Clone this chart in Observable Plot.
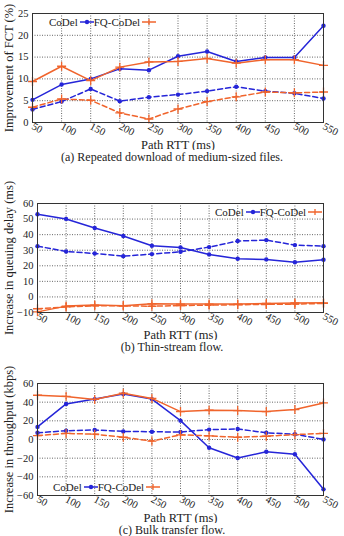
<!DOCTYPE html>
<html><head><meta charset="utf-8">
<script src="https://cdn.jsdelivr.net/npm/d3@7"></script>
<script src="https://cdn.jsdelivr.net/npm/@observablehq/plot@0.6"></script>
<style>
body{margin:0;background:#fff;font-family:"Liberation Serif",serif;}
#root{position:relative;width:344px;height:536px;overflow:hidden;background:#fff;}
.panel{position:absolute;left:0;}
.panel g[aria-label="x-axis label"]{font-size:12.5px;}
.panel g[aria-label="y-axis label"]{font-size:12.5px;}
.panel g[aria-label="x-axis tick label"], .panel g[aria-label="y-axis tick label"]{font-size:10.5px;}
.cap{position:absolute;left:0;width:344px;text-align:center;font-size:12px;color:#222;line-height:14px;}
.leg{position:absolute;display:flex;align-items:center;font-size:11px;color:#222;white-space:nowrap;line-height:12px;}
.leg svg{display:block;}
</style></head><body><div id="root"></div>
<script>
// ---- data ----
const rtt = [50, 100, 150, 200, 250, 300, 350, 400, 450, 500, 550];
const schemes = ["CoDel", "FQ-CoDel"];
const colors = ["#2525d8", "#f0642c"];

// (a) Improvement of FCT (%)
const fctCoDelSolid = [5.2, 8.7, 10.0, 12.3, 12.0, 15.2, 16.3, 14.0, 14.9, 14.9, 22.2];
const fctFQSolid    = [9.4, 12.9, 9.6, 12.7, 13.9, 14.0, 14.7, 13.6, 14.4, 14.4, 13.1];
const fctCoDelDash  = [3.0, 4.8, 7.7, 4.9, 5.8, 6.4, 7.2, 8.2, 7.2, 6.7, 5.5];
const fctFQDash     = [3.5, 5.4, 5.1, 2.2, 0.8, 3.1, 4.8, 5.9, 7.0, 6.8, 7.0];

// (b) Increase in queuing delay (ms)
const qdCoDelSolid = [53.1, 50.1, 44.3, 39.1, 32.9, 31.8, 27.3, 24.5, 24.1, 22.3, 23.9];
const qdCoDelDash  = [32.6, 29.2, 27.9, 26.2, 27.5, 29.0, 32.0, 35.9, 36.5, 33.3, 32.6];
const qdFQSolid    = [-9.6, -5.9, -5.2, -5.7, -4.4, -4.6, -4.6, -4.6, -4.2, -3.9, -3.8];
const qdFQDash     = [-7.6, -6.4, -5.7, -5.7, -6.0, -5.5, -5.3, -5.0, -4.8, -4.6, -4.2];

// (c) Increase in throughput (kbps)
const tpCoDelSolid = [13.5, 38.1, 43.3, 48.8, 43.3, 20.2, -8.8, -19.9, -13.2, -15.8, -53.4];
const tpFQSolid    = [47.4, 46.2, 42.9, 49.6, 44.0, 29.9, 31.4, 31.0, 29.9, 32.1, 39.2];
const tpCoDelDash  = [7.2, 9.4, 10.2, 8.7, 8.3, 8.0, 10.6, 11.3, 7.2, 5.7, 0.1];
const tpFQDash     = [4.2, 6.5, 5.7, 2.4, -1.7, 5.0, 3.9, 2.4, 3.5, 5.3, 6.5];

const xTicks = rtt;
const yTicksA = [0, 5, 10, 15, 20, 25];
const yTicksB = [-10, 0, 10, 20, 30, 40, 50, 60];
const yTicksC = [-60, -40, -20, 0, 20, 40, 60];

const xLabel = "Path RTT (ms)";
const yLabels = ["Improvement of FCT (%)", "Increase in queuing delay (ms)", "Increase in throughput (kbps)"];
const captions = ["(a) Repeated download of medium-sized files.", "(b) Thin-stream flow.", "(c) Bulk transfer flow."];

function rows(codelSolid, codelDash, fqSolid, fqDash) {
  const out = [];
  const add = (vals, scheme, dashed) => vals.forEach((v, i) => out.push({rtt: rtt[i], value: v, scheme, dashed}));
  add(codelSolid, "CoDel", false);
  add(codelDash, "CoDel", true);
  add(fqSolid, "FQ-CoDel", false);
  add(fqDash, "FQ-CoDel", true);
  return out;
}

const root = document.getElementById("root");

function panel({data, yDomain, yTicks, yLabel, top, height, marginTop, marginLeft, yLabelOffset}) {
  const marks = [
    Plot.gridX(xTicks, {stroke: "#666", strokeOpacity: 1, strokeDasharray: "1,1.5"}),
    Plot.gridY(yTicks, {stroke: "#666", strokeOpacity: 1, strokeDasharray: "1,1.5"}),
  ];
  for (const scheme of schemes) {
    for (const dashed of [false, true]) {
      const d = data.filter(r => r.scheme === scheme && r.dashed === dashed);
      const c = colors[schemes.indexOf(scheme)];
      marks.push(Plot.line(d, {x: "rtt", y: "value", stroke: c, strokeWidth: 1.5, strokeDasharray: dashed ? "5,3" : null}));
      if (scheme === "CoDel") marks.push(Plot.dot(d, {x: "rtt", y: "value", r: 2.2, fill: c, symbol: "circle"}));
      else marks.push(Plot.dot(d, {x: "rtt", y: "value", r: 3, stroke: c, strokeWidth: 1.3, symbol: "plus"}));
    }
  }
  marks.push(Plot.frame({stroke: "#333", strokeWidth: 1}));
  marks.push(Plot.axisX(xTicks, {tickSize: 0, tickPadding: 3, tickRotate: 28, textAnchor: "start", fontSize: 10.5,
    label: xLabel, labelAnchor: "center", labelOffset: 26, labelArrow: "none"}));
  marks.push(Plot.axisY(yTicks, {tickSize: 0, tickPadding: 4, fontSize: 10.5,
    label: yLabel, labelAnchor: "center", labelOffset: yLabelOffset, labelArrow: "none"}));
  const p = Plot.plot({
    width: 344, height, marginTop, marginBottom: 28, marginLeft, marginRight: 21,
    x: {domain: [50, 550]},
    y: {domain: yDomain},
    style: {fontFamily: "'Liberation Serif', serif", fontSize: "11px", color: "#222", background: "transparent"},
    marks
  });
  p.classList.add("panel");
  p.style.top = top + "px";
  root.appendChild(p);
}

panel({data: rows(fctCoDelSolid, fctCoDelDash, fctFQSolid, fctFQDash), yDomain: [0, 25], yTicks: yTicksA, yLabel: yLabels[0], top: 0, height: 150, marginTop: 13, marginLeft: 32, yLabelOffset: 28});
panel({data: rows(qdCoDelSolid, qdCoDelDash, qdFQSolid, qdFQDash), yDomain: [-10, 60], yTicks: yTicksB, yLabel: yLabels[1], top: 168, height: 172, marginTop: 35, marginLeft: 37, yLabelOffset: 33});
panel({data: rows(tpCoDelSolid, tpCoDelDash, tpFQSolid, tpFQDash), yDomain: [-60, 60], yTicks: yTicksC, yLabel: yLabels[2], top: 355, height: 168, marginTop: 28, marginLeft: 37, yLabelOffset: 33});

function caption(text, cy) {
  const d = document.createElement("div");
  d.className = "cap";
  d.textContent = text;
  d.style.top = (cy - 7) + "px";
  root.appendChild(d);
}
caption(captions[0], 157);
caption(captions[1], 347);
caption(captions[2], 530);

function sample(color, kind) {
  const ns = "http://www.w3.org/2000/svg";
  const s = document.createElementNS(ns, "svg");
  s.setAttribute("width", 16); s.setAttribute("height", 8);
  const l = document.createElementNS(ns, "line");
  l.setAttribute("x1", 1); l.setAttribute("x2", 15); l.setAttribute("y1", 4); l.setAttribute("y2", 4);
  l.setAttribute("stroke", color); l.setAttribute("stroke-width", 1.5);
  s.appendChild(l);
  if (kind === "circle") {
    const c = document.createElementNS(ns, "circle");
    c.setAttribute("cx", 8); c.setAttribute("cy", 4); c.setAttribute("r", 2.2); c.setAttribute("fill", color);
    s.appendChild(c);
  } else {
    const v = document.createElementNS(ns, "line");
    v.setAttribute("x1", 8); v.setAttribute("x2", 8); v.setAttribute("y1", 1); v.setAttribute("y2", 7);
    v.setAttribute("stroke", color); v.setAttribute("stroke-width", 1.3);
    s.appendChild(v);
  }
  return s;
}
function legend(left, cy) {
  const d = document.createElement("div");
  d.className = "leg";
  d.style.left = left + "px"; d.style.top = (cy - 6) + "px";
  const t1 = document.createElement("span"); t1.textContent = schemes[0];
  const t2 = document.createElement("span"); t2.textContent = schemes[1];
  const s1 = sample(colors[0], "circle"); s1.style.margin = "0 -1px 0 1px";
  const s2 = sample(colors[1], "plus"); s2.style.margin = "0 0 0 1px";
  d.append(t1, s1, t2, s2);
  root.appendChild(d);
}
legend(49, 22);
legend(215, 212);
legend(53, 487);
</script>
</body></html>
